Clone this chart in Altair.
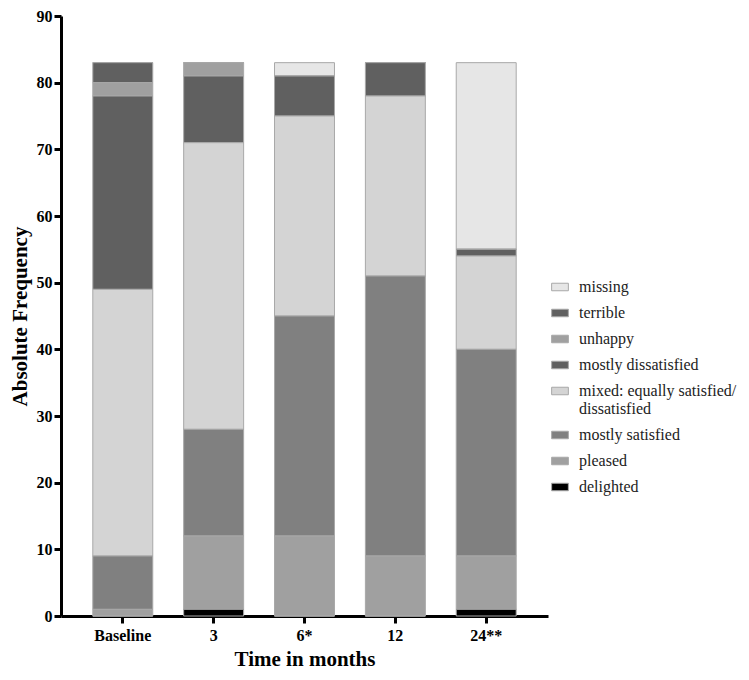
import altair as alt
import pandas as pd

timepoints = ["Baseline", "3", "6*", "12", "24**"]
categories = ["missing", "terrible", "unhappy", "mostly dissatisfied",
              "mixed: equally satisfied/ dissatisfied", "mostly satisfied",
              "pleased", "delighted"]
colors = ["#e6e6e6", "#606060", "#a0a0a0", "#606060",
          "#d4d4d4", "#808080", "#a0a0a0", "#000000"]

# values per category, per timepoint (Baseline, 3, 6*, 12, 24**)
delighted = [0, 1, 0, 0, 1]
pleased = [1, 11, 12, 9, 8]
mostly_satisfied = [8, 16, 33, 42, 31]
mixed = [40, 43, 30, 27, 14]
mostly_dissatisfied = [29, 10, 6, 5, 1]
unhappy = [2, 2, 0, 0, 0]
terrible = [3, 0, 0, 0, 0]
missing = [0, 0, 2, 0, 28]

series = {
    "missing": missing,
    "terrible": terrible,
    "unhappy": unhappy,
    "mostly dissatisfied": mostly_dissatisfied,
    "mixed: equally satisfied/ dissatisfied": mixed,
    "mostly satisfied": mostly_satisfied,
    "pleased": pleased,
    "delighted": delighted,
}

rows = []
for cat, vals in series.items():
    for t, v in zip(timepoints, vals):
        rows.append({"time": t, "category": cat, "value": v,
                     "stackorder": len(categories) - categories.index(cat)})
df = pd.DataFrame(rows)

FONT = "Liberation Serif"

chart = alt.Chart(df).mark_bar(stroke="#a8a8a8", strokeWidth=1).encode(
    x=alt.X("time:N", sort=timepoints, title="Time in months",
            scale=alt.Scale(paddingInner=0.34, paddingOuter=0.35),
            axis=alt.Axis(labelAngle=0, labelFontSize=16, labelFontWeight="bold",
                          labelFont=FONT, titleFont=FONT, grid=False,
                          titleFontSize=21, titleFontWeight="bold", titlePadding=5,
                          domainWidth=3, domainColor="black", tickWidth=3,
                          tickColor="black", tickSize=7, labelPadding=4,
                          labelColor="black", titleColor="black")),
    y=alt.Y("value:Q", stack="zero", title="Absolute Frequency",
            scale=alt.Scale(domain=[0, 90], nice=False),
            axis=alt.Axis(values=list(range(0, 91, 10)), labelFontSize=16,
                          labelFont=FONT, titleFont=FONT,
                          labelFontWeight="bold", titleFontSize=21,
                          titleFontWeight="bold", grid=False, domainWidth=3,
                          domainColor="black", tickWidth=3, tickColor="black",
                          tickSize=7, labelPadding=2, titlePadding=6,
                          labelColor="black", titleColor="black")),
    color=alt.Color("category:N",
                    scale=alt.Scale(domain=categories, range=colors),
                    legend=alt.Legend(
                        title=None, orient="none", legendX=490, legendY=262,
                        symbolType="M-1,-0.45H1V0.45H-1Z", symbolSize=280,
                        symbolStrokeColor="#a8a8a8", symbolStrokeWidth=1,
                        labelFontSize=16, labelFont=FONT, labelColor="#222222",
                        labelLimit=300, rowPadding=9, labelOffset=10,
                        labelExpr="datum.label == 'mixed: equally satisfied/ dissatisfied' ? ['mixed: equally satisfied/', 'dissatisfied'] : datum.label")),
    order=alt.Order("stackorder:Q", sort="ascending"),
).properties(
    width=487, height=600,
    autosize=alt.AutoSizeParams(type="none"),
    padding={"left": 53, "top": 8, "right": 192, "bottom": 56},
).configure(font=FONT).configure_view(stroke=None)

chart.save("out.html", embed_options={"renderer": "svg", "actions": False})
